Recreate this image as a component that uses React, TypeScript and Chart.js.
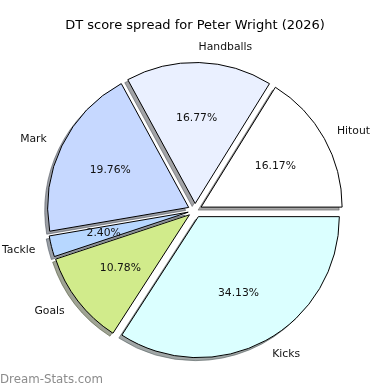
import React, { useEffect, useRef } from "react";
import { Chart, registerables } from "chart.js";

Chart.register(...registerables);

// Clockwise from 3 o'clock (matplotlib draws counter-clockwise from 3 o'clock)
const categories = ["Kicks", "Goals", "Tackle", "Mark", "Handballs", "Hitout"];
const percentages = [34.13, 10.78, 2.4, 19.76, 16.77, 16.17];
const sliceColors = ["#dbffff", "#d1eb8b", "#b7d7ff", "#c6d8ff", "#eaf0ff", "#ffffff"];
const titleText = "DT score spread for Peter Wright (2026)";
const watermark = "Dream-Stats.com";

const EXPLODE = 7;
const SHADOW_DX = -3;
const SHADOW_DY = 3;
const TEXT_DX = -1;
const TEXT_DY = 0.5;
const TEXT_RADIAL = 1.5;

function hexToRgb(h: string) {
  const n = parseInt(h.slice(1), 16);
  return [(n >> 16) & 255, (n >> 8) & 255, n & 255];
}

const piePlugin = {
  id: "mplPie",
  beforeDatasetsDraw(chart: any) {
    const ctx = chart.ctx;
    const arcs = chart.getDatasetMeta(0).data;
    // shadows
    arcs.forEach((arc: any, i: number) => {
      const mid = (arc.startAngle + arc.endAngle) / 2;
      const ox = Math.cos(mid) * EXPLODE + SHADOW_DX;
      const oy = Math.sin(mid) * EXPLODE + SHADOW_DY;
      const [r, g, b] = hexToRgb(sliceColors[i]);
      const c = `rgba(${Math.round(r * 0.3)},${Math.round(g * 0.3)},${Math.round(b * 0.3)},0.5)`;
      ctx.save();
      ctx.beginPath();
      ctx.moveTo(arc.x + ox, arc.y + oy);
      ctx.arc(arc.x + ox, arc.y + oy, arc.outerRadius, arc.startAngle, arc.endAngle);
      ctx.closePath();
      ctx.fillStyle = c;
      ctx.strokeStyle = c;
      ctx.lineWidth = 1;
      ctx.fill();
      ctx.stroke();
      ctx.restore();
    });
    // exploded slices
    arcs.forEach((arc: any) => {
      const mid = (arc.startAngle + arc.endAngle) / 2;
      ctx.save();
      ctx.translate(Math.cos(mid) * EXPLODE, Math.sin(mid) * EXPLODE);
      arc.draw(ctx);
      ctx.restore();
    });
    return false;
  },
  afterDraw(chart: any) {
    const ctx = chart.ctx;
    const arcs = chart.getDatasetMeta(0).data;
    ctx.save();
    ctx.fillStyle = "#111";
    ctx.textBaseline = "middle";
    arcs.forEach((arc: any, i: number) => {
      const mid = (arc.startAngle + arc.endAngle) / 2;
      const cx = arc.x + Math.cos(mid) * EXPLODE + TEXT_DX;
      const cy = arc.y + Math.sin(mid) * EXPLODE + TEXT_DY;
      const r = arc.outerRadius;
      ctx.font = "10.8px 'DejaVu Sans'";
      // label
      const lr = r * 1.1 + TEXT_RADIAL;
      const lx = cx + Math.cos(mid) * lr;
      const ly = cy + Math.sin(mid) * lr;
      ctx.textAlign = Math.cos(mid) >= 0 ? "left" : "right";
      ctx.fillText(categories[i], lx, ly);
      // percentage
      const pr = r * 0.6 + TEXT_RADIAL;
      const px = cx + Math.cos(mid) * pr;
      const py = cy + Math.sin(mid) * pr;
      ctx.textAlign = "center";
      ctx.fillText(percentages[i].toFixed(2) + "%", px, py);
    });
    ctx.font = "13px 'DejaVu Sans'";
    ctx.textAlign = "center";
    ctx.fillStyle = "#000";
    ctx.fillText(titleText, 195, 25.5);
    ctx.font = "11.8px 'DejaVu Sans'";
    ctx.textAlign = "left";
    ctx.fillStyle = "#8c8c8c";
    ctx.fillText(watermark, 0, 379.5);
    ctx.restore();
  },
};

export default function App() {
  const ref = useRef<HTMLCanvasElement>(null);
  useEffect(() => {
    document.body.style.margin = "0";
    if (!ref.current) return;
    const chart = new Chart(ref.current, {
      type: "pie",
      data: {
        labels: categories,
        datasets: [
          {
            data: percentages,
            backgroundColor: sliceColors,
            borderColor: "#000",
            borderWidth: 1,
            borderJoinStyle: "miter",
          } as any,
        ],
      },
      options: {
        responsive: false,
        animation: false,
        rotation: 90,
        layout: { padding: { left: 53.5, top: 69, right: 53.5, bottom: 38 } },
        plugins: {
          legend: { display: false },
          title: { display: false },
          tooltip: { enabled: false },
        },
        events: [],
      } as any,
      plugins: [piePlugin],
    });
    return () => chart.destroy();
  }, []);
  return (
    <div style={{ position: "absolute", left: 0, top: 0, width: 390, height: 390, background: "#fff" }}>
      <canvas ref={ref} width={390} height={390} />
    </div>
  );
}
